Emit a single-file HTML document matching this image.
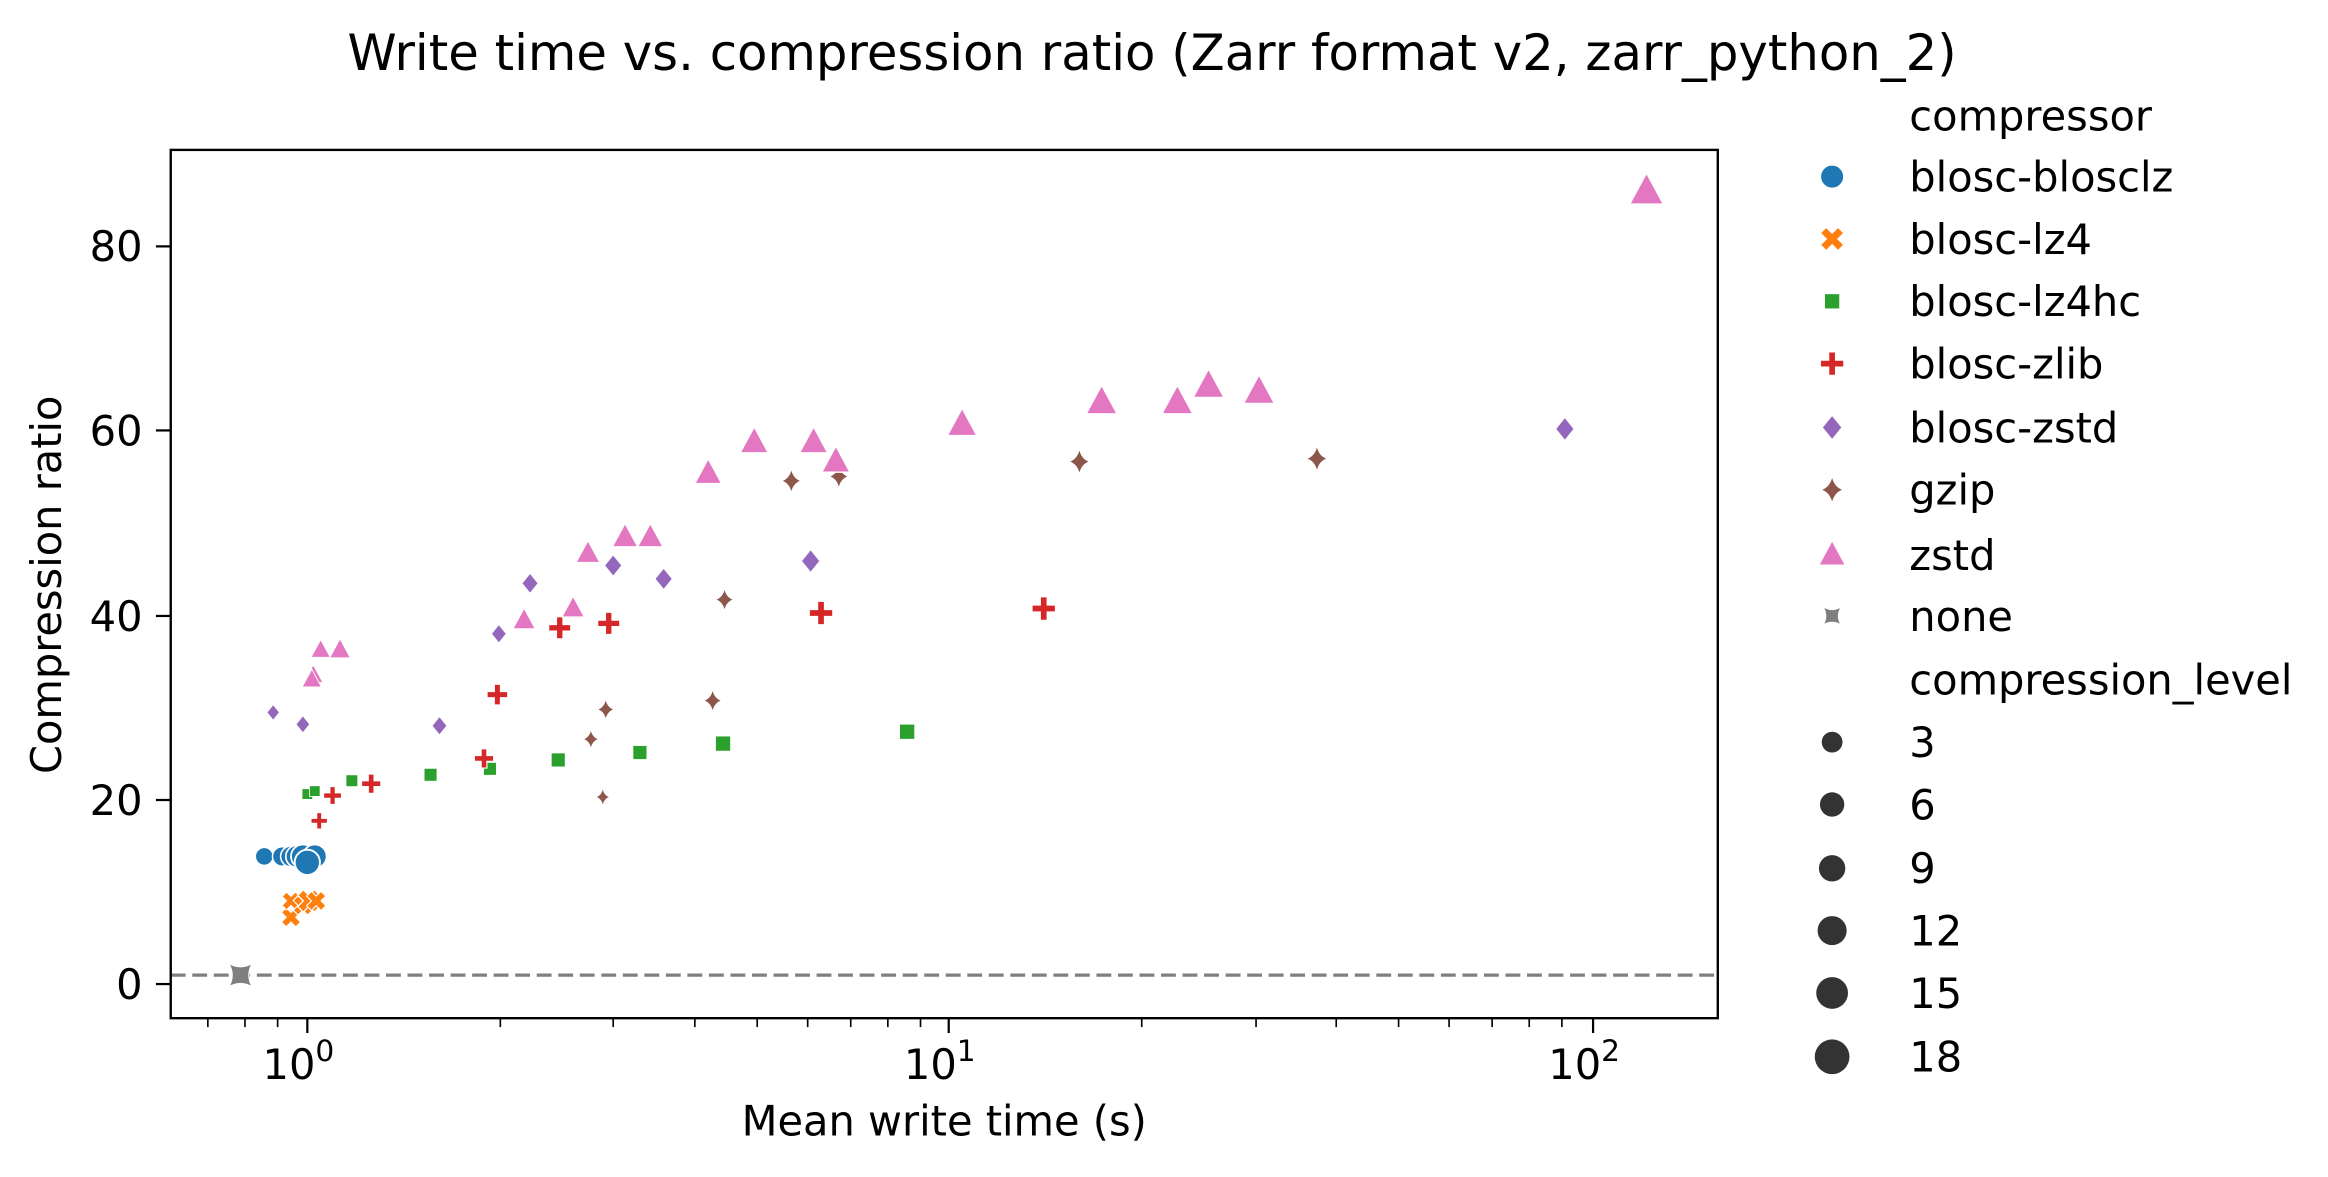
<!DOCTYPE html>
<html><head><meta charset="utf-8"><style>
html,body{margin:0;padding:0;background:#fff;}
svg{display:block;}
text{font-family:"DejaVu Sans","Liberation Sans",sans-serif;fill:#000;}
</style></head><body>
<svg width="2328" height="1177" viewBox="0 0 1568 793" preserveAspectRatio="none" xmlns="http://www.w3.org/2000/svg">
<defs>
<circle id="c" r="1" fill="#1f77b4" stroke="#fff" stroke-width="0.15"/>
<path id="x" d="M-1,-0.5 L-0.5,-1 L0,-0.5 L0.5,-1 L1,-0.5 L0.5,0 L1,0.5 L0.5,1 L0,0.5 L-0.5,1 L-1,0.5 L-0.5,0 Z" fill="#ff7f0e" stroke="#fff" stroke-width="0.12"/>
<rect id="s" x="-0.8" y="-0.8" width="1.6" height="1.6" fill="#2ca02c" stroke="#fff" stroke-width="0.12"/>
<path id="p" d="M-0.3,-1 H0.3 V-0.3 H1 V0.3 H0.3 V1 H-0.3 V0.3 H-1 V-0.3 H-0.3 Z" fill="#d62728" stroke="#fff" stroke-width="0.12"/>
<path id="d" d="M0,-1.05 L0.85,0 L0,1.05 L-0.85,0 Z" fill="#9467bd" stroke="#fff" stroke-width="0.12"/>
<path id="g" d="M0,-1.2 Q0.2,-0.2 1,0 Q0.2,0.2 0,1.2 Q-0.2,0.2 -1,0 Q-0.2,-0.2 0,-1.2 Z" fill="#8c564b" stroke="#fff" stroke-width="0.1"/>
<path id="t" d="M0,-1.1 L1,0.75 L-1,0.75 Z" fill="#e377c2" stroke="#fff" stroke-width="0.1"/>
<path id="n" d="M-1,-1 Q0,-0.4 1,-1 Q0.4,0 1,1 Q0,0.4 -1,1 Q-0.4,0 -1,-1 Z" fill="#7f7f7f" stroke="#fff" stroke-width="0.1"/>
</defs>
<text x="776" y="47" font-size="33.5" text-anchor="middle">Write time vs. compression ratio (Zarr format v2, zarr_python_2)</text>
<g stroke="#000" stroke-width="1.5">
<line x1="105" y1="663" x2="115" y2="663"/><line x1="105" y1="539" x2="115" y2="539"/><line x1="105" y1="415" x2="115" y2="415"/><line x1="105" y1="290" x2="115" y2="290"/><line x1="105" y1="166" x2="115" y2="166"/>
<line x1="207" y1="686" x2="207" y2="696"/><line x1="639" y1="686" x2="639" y2="696"/><line x1="1073" y1="686" x2="1073" y2="696"/>
</g>
<g stroke="#000" stroke-width="1.1">
<line x1="140" y1="686" x2="140" y2="692"/><line x1="165" y1="686" x2="165" y2="692"/><line x1="187" y1="686" x2="187" y2="692"/>
<line x1="337" y1="686" x2="337" y2="692"/><line x1="413" y1="686" x2="413" y2="692"/><line x1="468" y1="686" x2="468" y2="692"/><line x1="510" y1="686" x2="510" y2="692"/><line x1="544" y1="686" x2="544" y2="692"/><line x1="573" y1="686" x2="573" y2="692"/><line x1="598" y1="686" x2="598" y2="692"/><line x1="620" y1="686" x2="620" y2="692"/>
<line x1="769" y1="686" x2="769" y2="692"/><line x1="846" y1="686" x2="846" y2="692"/><line x1="900" y1="686" x2="900" y2="692"/><line x1="942" y1="686" x2="942" y2="692"/><line x1="976" y1="686" x2="976" y2="692"/><line x1="1005" y1="686" x2="1005" y2="692"/><line x1="1030" y1="686" x2="1030" y2="692"/><line x1="1052" y1="686" x2="1052" y2="692"/>
</g>
<g font-size="28" text-anchor="end">
<text x="96" y="673">0</text><text x="96" y="549">20</text><text x="96" y="425">40</text><text x="96" y="300">60</text><text x="96" y="176">80</text>
</g>
<g font-size="28" text-anchor="middle">
<text x="201" y="727">10<tspan font-size="20" dy="-12">0</tspan></text>
<text x="633" y="727">10<tspan font-size="20" dy="-12">1</tspan></text>
<text x="1067" y="727">10<tspan font-size="20" dy="-12">2</tspan></text>
</g>
<text x="636" y="765" font-size="28" text-anchor="middle">Mean write time (s)</text>
<text transform="translate(41,394) rotate(-90)" font-size="28" text-anchor="middle">Compression ratio</text>
<line x1="115" y1="657" x2="1157" y2="657" stroke="#7f7f7f" stroke-width="2.2" stroke-dasharray="10,4.5"/>
<g>
<use href="#n" transform="translate(162,657) scale(8)"/>
<use href="#c" transform="translate(178,577) scale(6)"/><use href="#c" transform="translate(190,577) scale(6.5)"/><use href="#c" transform="translate(196,577) scale(7)"/><use href="#c" transform="translate(200,577) scale(7.5)"/><use href="#c" transform="translate(204,577) scale(8)"/><use href="#c" transform="translate(212,577) scale(8)"/><use href="#c" transform="translate(207,581) scale(8.5)"/>
<use href="#x" transform="translate(196,618) scale(6.5)"/><use href="#x" transform="translate(202,607) scale(6.5)"/><use href="#x" transform="translate(196,607) scale(6)"/><use href="#x" transform="translate(204,610) scale(6.5)"/><use href="#x" transform="translate(208,607) scale(7.5)"/><use href="#x" transform="translate(213,607) scale(6.5)"/>
<use href="#s" transform="translate(207,535) scale(4.5)"/><use href="#s" transform="translate(212,533) scale(4.5)"/><use href="#s" transform="translate(237,526) scale(5)"/><use href="#s" transform="translate(290,522) scale(5.5)"/><use href="#s" transform="translate(330,518) scale(5.5)"/><use href="#s" transform="translate(376,512) scale(6)"/><use href="#s" transform="translate(431,507) scale(6)"/><use href="#s" transform="translate(487,501) scale(6.5)"/><use href="#s" transform="translate(611,493) scale(6.5)"/>
<use href="#p" transform="translate(215,553) scale(5.5)"/><use href="#p" transform="translate(224,536) scale(6)"/><use href="#p" transform="translate(250,528) scale(6.5)"/><use href="#p" transform="translate(326,511) scale(6.5)"/><use href="#p" transform="translate(335,468) scale(7)"/><use href="#p" transform="translate(377,423) scale(7.5)"/><use href="#p" transform="translate(410,420) scale(7.5)"/><use href="#p" transform="translate(553,413) scale(8)"/><use href="#p" transform="translate(703,410) scale(8)"/>
<use href="#d" transform="translate(184,480) scale(5)"/><use href="#d" transform="translate(204,488) scale(5.5)"/><use href="#d" transform="translate(296,489) scale(6)"/><use href="#d" transform="translate(336,427) scale(6)"/><use href="#d" transform="translate(357,393) scale(6.5)"/><use href="#d" transform="translate(413,381) scale(7)"/><use href="#d" transform="translate(447,390) scale(7)"/><use href="#d" transform="translate(546,378) scale(7.5)"/><use href="#d" transform="translate(1054,289) scale(7.5)"/>
<use href="#g" transform="translate(406,537) scale(5)"/><use href="#g" transform="translate(398,498) scale(5.5)"/><use href="#g" transform="translate(408,478) scale(6)"/><use href="#g" transform="translate(480,472) scale(6.5)"/><use href="#g" transform="translate(488,404) scale(6.5)"/><use href="#g" transform="translate(533,324) scale(7)"/><use href="#g" transform="translate(565,321) scale(7)"/><use href="#g" transform="translate(727,311) scale(7.5)"/><use href="#g" transform="translate(887,309) scale(7.5)"/>
<use href="#t" transform="translate(211,455) scale(6.5)"/><use href="#t" transform="translate(210,458) scale(6.5)"/><use href="#t" transform="translate(216,438) scale(6.5)"/><use href="#t" transform="translate(229,438) scale(7)"/><use href="#t" transform="translate(353,418) scale(7.5)"/><use href="#t" transform="translate(386,410) scale(7.5)"/><use href="#t" transform="translate(396,373) scale(8)"/><use href="#t" transform="translate(421,362) scale(8.5)"/><use href="#t" transform="translate(438,362) scale(8.5)"/><use href="#t" transform="translate(477,319) scale(9)"/><use href="#t" transform="translate(508,298) scale(9.5)"/><use href="#t" transform="translate(548,298) scale(9.5)"/><use href="#t" transform="translate(563,311) scale(9.5)"/><use href="#t" transform="translate(648,286) scale(10)"/><use href="#t" transform="translate(742,271) scale(10.5)"/><use href="#t" transform="translate(793,271) scale(10.5)"/><use href="#t" transform="translate(814,260) scale(10.5)"/><use href="#t" transform="translate(848,264) scale(10.5)"/><use href="#t" transform="translate(1109,129) scale(11.5)"/>
</g>
<rect x="115" y="101" width="1042" height="585" fill="none" stroke="#000" stroke-width="1.6"/>
<g font-size="28">
<text x="1286" y="88">compressor</text>
<use href="#c" transform="translate(1234,119) scale(8)"/><text x="1286" y="129">blosc-blosclz</text>
<use href="#x" transform="translate(1234,161) scale(8)"/><text x="1286" y="171">blosc-lz4</text>
<use href="#s" transform="translate(1234,203) scale(6.5)"/><text x="1286" y="213">blosc-lz4hc</text>
<use href="#p" transform="translate(1234,245) scale(8)"/><text x="1286" y="255">blosc-zlib</text>
<use href="#d" transform="translate(1234,288) scale(8)"/><text x="1286" y="298">blosc-zstd</text>
<use href="#g" transform="translate(1234,330) scale(8)"/><text x="1286" y="340">gzip</text>
<use href="#t" transform="translate(1234,374) scale(9)"/><text x="1286" y="384">zstd</text>
<use href="#n" transform="translate(1234,415) scale(6)"/><text x="1286" y="425">none</text>
<text x="1286" y="468">compression_level</text>
<circle cx="1234" cy="500" r="7" fill="#333"/><text x="1286" y="510">3</text>
<circle cx="1234" cy="542" r="8.2" fill="#333"/><text x="1286" y="552">6</text>
<circle cx="1234" cy="585" r="8.9" fill="#333"/><text x="1286" y="595">9</text>
<circle cx="1234" cy="627" r="9.8" fill="#333"/><text x="1286" y="637">12</text>
<circle cx="1234" cy="669" r="10.7" fill="#333"/><text x="1286" y="679">15</text>
<circle cx="1234" cy="712" r="11.7" fill="#333"/><text x="1286" y="722">18</text>
</g>
</svg>
</body></html>
